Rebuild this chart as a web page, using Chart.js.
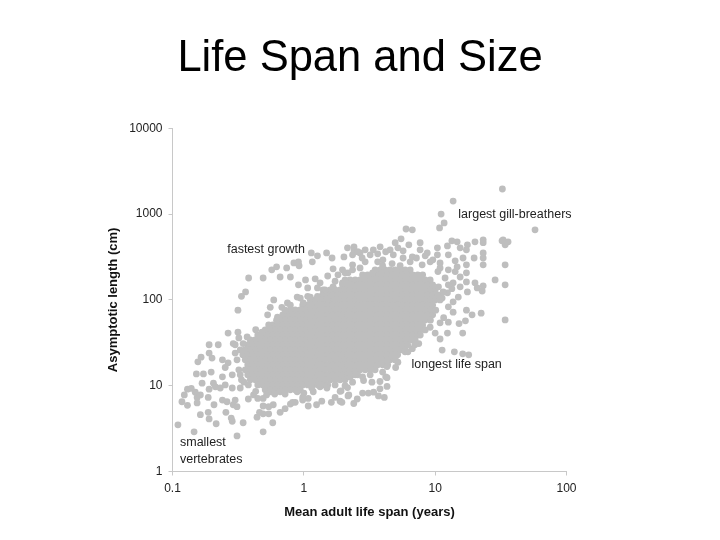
<!DOCTYPE html>
<html><head><meta charset="utf-8">
<style>html,body{margin:0;padding:0;background:#fff}#w{width:720px;height:540px}</style>
<script src="https://cdn.jsdelivr.net/npm/chart.js@4"></script></head>
<body><div id="w"><canvas id="c" width="720" height="540"></canvas></div>
<script>
const chartTitle = "Life Span and Size";
const xTitle = "Mean adult life span (years)";
const yTitle = "Asymptotic length (cm)";
const xTickValues = [0.1, 1, 10, 100];
const yTickValues = [1, 10, 100, 1000, 10000];
const notes = [["fastest growth",0.261,383],["largest gill-breathers",15,1000],["longest life span",6.6,17.5],["smallest",0.114,2.15],["vertebrates",0.114,1.36]];

// solid core of the cloud, read band by band: length (cm) and the life spans (years) seen at it
const coreLengths = [224,196,171,150,131,114,100,87,76.5,67,58.5,51,44.7,39,34.2,29.9,26.1,22.9,20,17.5,15.3,13.4,11.7,10.2,8.95];
const at224 = [3.49,3.81,4.16,4.54,4.96,5.41,5.91,6.45];
const at196 = [2.8,3.06,3.34,3.65,3.98,4.35,4.75,5.18,5.66,6.18,6.74,7.36,8.03];
const at171 = [2.25,2.46,2.68,2.93,3.2,3.49,3.81,4.16,4.54,4.96,5.41,5.91,6.45,7.04,7.68,8.39,9.16];
const at150 = [1.97,2.15,2.35,2.57,2.8,3.06,3.34,3.65,3.98,4.35,4.75,5.18,5.66,6.18,6.74,7.36,8.03,8.77,9.57];
const at131 = [1.59,1.73,1.89,2.06,2.25,2.46,2.68,2.93,3.2,3.49,3.81,4.16,4.54,4.96,5.41,5.91,6.45,7.04,7.68,8.39,9.16,10];
const at114 = [1.39,1.52,1.66,1.81,1.97,2.15,2.35,2.57,2.8,3.06,3.34,3.65,3.98,4.35,4.75,5.18,5.66,6.18,6.74,7.36,8.03,8.77,9.57,10.5];
const at100 = [1.12,1.22,1.33,1.45,1.59,1.73,1.89,2.06,2.25,2.46,2.68,2.93,3.2,3.49,3.81,4.16,4.54,4.96,5.41,5.91,6.45,7.04,7.68,8.39,9.16,10];
const at87 = [0.981,1.07,1.17,1.28,1.39,1.52,1.66,1.81,1.97,2.15,2.35,2.57,2.8,3.06,3.34,3.65,3.98,4.35,4.75,5.18,5.66,6.18,6.74,7.36,8.03,8.77,9.57];
const at76 = [0.788,0.86,0.939,1.03,1.12,1.22,1.33,1.45,1.59,1.73,1.89,2.06,2.25,2.46,2.68,2.93,3.2,3.49,3.81,4.16,4.54,4.96,5.41,5.91,6.45,7.04,7.68,8.39,9.16];
const at67 = [0.691,0.754,0.823,0.899,0.981,1.07,1.17,1.28,1.39,1.52,1.66,1.81,1.97,2.15,2.35,2.57,2.8,3.06,3.34,3.65,3.98,4.35,4.75,5.18,5.66,6.18,6.74,7.36,8.03,8.77,9.57];
const at58 = [0.661,0.722,0.788,0.86,0.939,1.03,1.12,1.22,1.33,1.45,1.59,1.73,1.89,2.06,2.25,2.46,2.68,2.93,3.2,3.49,3.81,4.16,4.54,4.96,5.41,5.91,6.45,7.04,7.68,8.39];
const at51 = [0.58,0.633,0.691,0.754,0.823,0.899,0.981,1.07,1.17,1.28,1.39,1.52,1.66,1.81,1.97,2.15,2.35,2.57,2.8,3.06,3.34,3.65,3.98,4.35,4.75,5.18,5.66,6.18,6.74,7.36,8.03];
const at45 = [0.508,0.555,0.606,0.661,0.722,0.788,0.86,0.939,1.03,1.12,1.22,1.33,1.45,1.59,1.73,1.89,2.06,2.25,2.46,2.68,2.93,3.2,3.49,3.81,4.16,4.54,4.96,5.41,5.91,6.45,7.04,7.68];
const at39 = [0.446,0.487,0.531,0.58,0.633,0.691,0.754,0.823,0.899,0.981,1.07,1.17,1.28,1.39,1.52,1.66,1.81,1.97,2.15,2.35,2.57,2.8,3.06,3.34,3.65,3.98,4.35,4.75,5.18,5.66,6.18,6.74,7.36];
const at34 = [0.391,0.427,0.466,0.508,0.555,0.606,0.661,0.722,0.788,0.86,0.939,1.03,1.12,1.22,1.33,1.45,1.59,1.73,1.89,2.06,2.25,2.46,2.68,2.93,3.2,3.49,3.81,4.16,4.54,4.96,5.41,5.91,6.45,7.04];
const at30 = [0.374,0.408,0.446,0.487,0.531,0.58,0.633,0.691,0.754,0.823,0.899,0.981,1.07,1.17,1.28,1.39,1.52,1.66,1.81,1.97,2.15,2.35,2.57,2.8,3.06,3.34,3.65,3.98,4.35,4.75,5.18,5.66,6.18];
const at26 = [0.328,0.358,0.391,0.427,0.466,0.508,0.555,0.606,0.661,0.722,0.788,0.86,0.939,1.03,1.12,1.22,1.33,1.45,1.59,1.73,1.89,2.06,2.25,2.46,2.68,2.93,3.2,3.49,3.81,4.16,4.54,4.96,5.41,5.91];
const at23 = [0.343,0.374,0.408,0.446,0.487,0.531,0.58,0.633,0.691,0.754,0.823,0.899,0.981,1.07,1.17,1.28,1.39,1.52,1.66,1.81,1.97,2.15,2.35,2.57,2.8,3.06,3.34,3.65,3.98,4.35,4.75,5.18];
const at20 = [0.358,0.391,0.427,0.466,0.508,0.555,0.606,0.661,0.722,0.788,0.86,0.939,1.03,1.12,1.22,1.33,1.45,1.59,1.73,1.89,2.06,2.25,2.46,2.68,2.93,3.2,3.49,3.81,4.16,4.54,4.96];
const at17 = [0.374,0.408,0.446,0.487,0.531,0.58,0.633,0.691,0.754,0.823,0.899,0.981,1.07,1.17,1.28,1.39,1.52,1.66,1.81,1.97,2.15,2.35,2.57,2.8,3.06,3.34,3.65,3.98,4.35];
const at15 = [0.358,0.391,0.427,0.466,0.508,0.555,0.606,0.661,0.722,0.788,0.86,0.939,1.03,1.12,1.22,1.33,1.45,1.59,1.73,1.89,2.06,2.25,2.46,2.68,2.93,3.2,3.49];
const at13 = [0.374,0.408,0.446,0.487,0.531,0.58,0.633,0.691,0.754,0.823,0.899,0.981,1.07,1.17,1.28,1.39,1.52,1.66,1.81,1.97,2.15,2.35,2.57];
const at12 = [0.391,0.427,0.466,0.508,0.555,0.606,0.661,0.722,0.788,0.86,0.939,1.03,1.12,1.22,1.33,1.45,1.59,1.73,1.89,2.06];
const at10 = [0.446,0.487,0.531,0.58,0.633,0.691,0.754,0.823,0.899,0.981,1.07,1.17,1.28,1.39,1.52];
const at9 = [0.508,0.555,0.606,0.661,0.722,0.788,0.86,0.939];
const coreSpans = [at224,at196,at171,at150,at131,at114,at100,at87,at76,at67,at58,at51,at45,at39,at34,at30,at26,at23,at20,at17,at15,at13,at12,at10,at9];

// separate points around the core: [life span, length]
const upperLeft = [[1.14,353],[1.27,326],[1.49,353],[1.64,308],[2.02,317],[2.15,404],[1.16,278],[0.91,278],[0.84,270],[0.74,236],[0.92,250],[0.62,243],[0.57,224],[0.38,180],[0.49,180],[0.66,185],[0.79,185],[0.36,124],[0.335,110],[0.315,76],[0.91,150],[1.03,171],[1.22,176],[1.67,230],[1.52,190],[1.82,196],[2.17,207],[1.33,158],[1.07,138],[1.27,138],[0.89,108],[0.94,105],[0.75,92],[0.59,100],[0.555,82],[0.53,67],[0.63,63],[0.68,82],[0.99,92],[1.12,108],[1.4,131],[1.67,142],[1.97,158]];
const upperRight = [[32.5,1960],[13.7,1420],[11.1,1000],[11.7,790],[10.8,690],[6,670],[6.7,655],[57.6,655],[5.5,515],[4.96,464],[6.3,438],[7.68,464],[13.4,488],[14.7,475],[20.1,475],[17.6,438],[23.2,501],[23.2,464],[32.9,501],[35.9,475],[34.1,438],[32.3,488],[2.41,415],[2.41,373],[3.81,415],[3.38,383],[2.68,353],[4.54,383],[5.2,404],[7.68,383],[10.4,404],[12.4,426],[15.5,404],[17.3,383],[23.2,353],[23.2,308],[19.8,308],[16.3,308],[14.2,285],[23.2,256],[34.1,256],[17.3,256],[14.7,243],[12.6,335],[10.4,335],[8.7,353],[6.7,317],[5.7,308],[4,293],[3.2,335],[2.78,308],[2.35,256],[2.06,207],[10.9,270],[9.16,278],[7.96,256]];
const right = [[28.6,171],[34.1,150],[23.2,146],[20.1,158],[17.3,162],[15.5,185],[13.7,158],[17.3,207],[17.6,124],[20.9,138],[22.8,127],[15.5,142],[10.6,142],[12.4,121],[15,108],[13.7,95],[12.6,83],[17.3,76],[19.1,67],[22.4,70],[34.1,58.5],[17,57],[15.2,53],[13.7,72],[12.6,55],[10.9,54],[11.6,62],[16.2,41],[12.4,41],[10.9,35],[10,41],[9.16,48],[7.5,31],[6.7,27],[11.3,26],[14,24.8],[16.2,23.5],[18,22.9],[5.9,24.8],[5.2,18.8]];
const lowerRight = [[5,16.3],[4.3,16.7],[4.2,12.7],[4.3,12.4],[3.8,11.2],[4.3,9.8],[3.8,9.2],[4.1,7.3],[3.7,7.6],[3.4,8.4],[3.1,8.2],[2.8,8.2],[3.3,11],[2.85,11.5],[2.35,11],[2.25,12.6],[2.15,9.5],[2.2,7.8],[2.55,7],[2.4,6.2],[1.89,8.6],[1.89,6.6]];
const lowerLeft = [[0.11,3.5],[0.146,2.9],[0.31,2.6],[0.49,2.9],[0.345,3.7],[0.215,3.6],[0.19,4.1],[0.163,4.6],[0.187,4.9],[0.28,4.2],[0.285,3.85],[0.255,4.9],[0.207,6],[0.118,6.5],[0.13,5.9],[0.154,6.3],[0.154,7.3],[0.123,7.8],[0.13,9.1],[0.139,9.3],[0.149,8.4],[0.163,7.8],[0.187,7.3],[0.19,9.1],[0.168,10.7],[0.205,10.7],[0.212,9.7],[0.152,13.7],[0.172,13.7],[0.197,14.4],[0.24,12.7],[0.156,19],[0.165,21.5],[0.19,24],[0.2,21],[0.19,30],[0.223,30],[0.265,41],[0.315,42],[0.29,31],[0.32,36],[0.24,20],[0.265,18.5],[0.252,16.3],[0.285,13.4],[0.231,9.4],[0.252,10.2],[0.285,9.4],[0.24,6.8],[0.26,6.5],[0.3,6.8],[0.29,6],[0.31,5.7],[0.378,7],[0.414,7.8],[0.328,9.4],[0.35,11],[0.328,13.4],[0.3,24]];
const lowerMiddle = [[0.44,4.3],[0.46,4.9],[0.49,4.7],[0.54,4.7],[0.58,3.7],[0.49,5.8],[0.54,5.7],[0.585,6],[0.66,4.9],[0.72,5.4],[0.79,6.1],[0.86,6.4],[1.08,5.8],[0.98,6.8],[1.08,7.1],[0.98,7.3],[1.25,6],[1.37,6.6],[1.62,6.4],[1.95,6.4],[1.73,7.3],[1.92,8.7],[2.17,7.6],[1.18,8.5],[1.5,9.4],[0.446,7.1],[0.49,7.1],[0.555,8.5],[0.66,8.5],[0.72,8],[0.82,6.4],[0.89,8.5]];
const edgeTop = [[2.35,335],[2.57,364],[2.93,383],[3.65,344],[4.2,364],[4.8,335],[5.7,373],[6.45,278],[7.2,308],[8.4,326],[9.6,293],[10.9,236],[12.6,224],[14.2,214],[11.9,180],[13.4,135],[11.3,105],[12.6,150],[10.5,214],[4.7,265],[3.65,278],[2.93,278],[2.35,224],[1.97,224],[2.68,236],[3.98,250],[5.41,250],[3.34,207],[2.06,171],[1.73,165],[1.45,131],[1.27,110],[1.07,110],[1.5,104]];
const edgeLeft = [[0.72,76],[0.62,58],[0.79,87],[0.54,51],[0.48,42],[0.43,45],[0.37,37],[0.345,31],[0.3,30],[0.31,20],[0.32,15.3],[0.335,11.7],[0.378,10.2]];
const edgeBottom = [[0.43,8.6],[0.52,7.8],[0.6,8],[1,8.2],[1.15,9.4],[1.33,9.7],[1.73,10.2],[2.06,10],[2.46,13.4],[2.8,12.7],[3.2,13.4],[3.98,14.4],[4.35,20],[4.96,20],[6.2,24.8],[7,30],[7.7,39],[8.4,44.7],[9.2,58],[10.1,76],[10.9,100],[11.5,124]];

const points = [];
coreLengths.forEach((len, i) => coreSpans[i].forEach(s => points.push({x: s, y: len})));
[upperLeft, upperRight, right, lowerRight, lowerLeft, lowerMiddle, edgeTop, edgeLeft, edgeBottom].forEach(g => g.forEach(p => points.push({x: p[0], y: p[1]})));

const FONT = '"Liberation Sans", Arial, sans-serif';
const notePlugin = {
  id: 'notes',
  afterDatasetsDraw(chart) {
    const {ctx, scales} = chart;
    ctx.save();
    ctx.font = '12.5px ' + FONT;
    ctx.fillStyle = '#222';
    ctx.textBaseline = 'middle';
    notes.forEach(n => ctx.fillText(n[0], scales.x.getPixelForValue(n[1]), scales.y.getPixelForValue(n[2])));
    ctx.restore();
  }
};
const decadeTicks = vals => scale => { scale.ticks = vals.map(v => ({value: v, label: String(v)})); };

new Chart(document.getElementById('c'), {
  type: 'scatter',
  data: {datasets: [{data: points, backgroundColor: '#bebebe', borderWidth: 0, pointRadius: 3.4, pointHoverRadius: 3.4}]},
  plugins: [notePlugin],
  options: {
    responsive: false, animation: false, devicePixelRatio: 1,
    layout: {padding: {left: 0, right: 0, top: 0, bottom: 20}},
    plugins: {
      legend: {display: false}, tooltip: {enabled: false},
      title: {display: true, text: chartTitle, color: '#000', font: {family: FONT, size: 43.5, weight: 'normal', lineHeight: 1.2}, padding: {top: 33, bottom: 43.1}}
    },
    scales: {
      x: {type: 'logarithmic', min: 0.1, max: 100, afterBuildTicks: decadeTicks(xTickValues),
        afterFit(s) { s.height = 48.5; },
        border: {color: '#c8c8c8', width: 1},
        grid: {drawOnChartArea: false, drawTicks: true, tickLength: 4, color: '#c8c8c8'},
        ticks: {color: '#222', font: {family: FONT, size: 12}, maxRotation: 0, autoSkip: false, padding: 6, callback: (v) => String(v)},
        title: {display: true, text: xTitle, color: '#111', font: {family: FONT, size: 13, weight: 'bold'}, padding: {top: 6, bottom: 0}}},
      y: {type: 'logarithmic', min: 1, max: 10000, afterBuildTicks: decadeTicks(yTickValues),
        afterFit(s) { s.width = 172.5; },
        border: {color: '#c8c8c8', width: 1},
        grid: {drawOnChartArea: false, drawTicks: true, tickLength: 4, color: '#c8c8c8'},
        ticks: {color: '#222', font: {family: FONT, size: 12}, autoSkip: false, padding: 6, callback: (v) => String(v)},
        title: {display: true, text: yTitle, color: '#111', font: {family: FONT, size: 13, weight: 'bold'}, padding: {top: 106, bottom: 0}}},
      rightMargin: {type: 'linear', position: 'right', display: true, afterFit(s) { s.width = 153.5; },
        border: {display: false}, grid: {display: false}, ticks: {display: false}}
    }
  }
});
</script></body></html>
